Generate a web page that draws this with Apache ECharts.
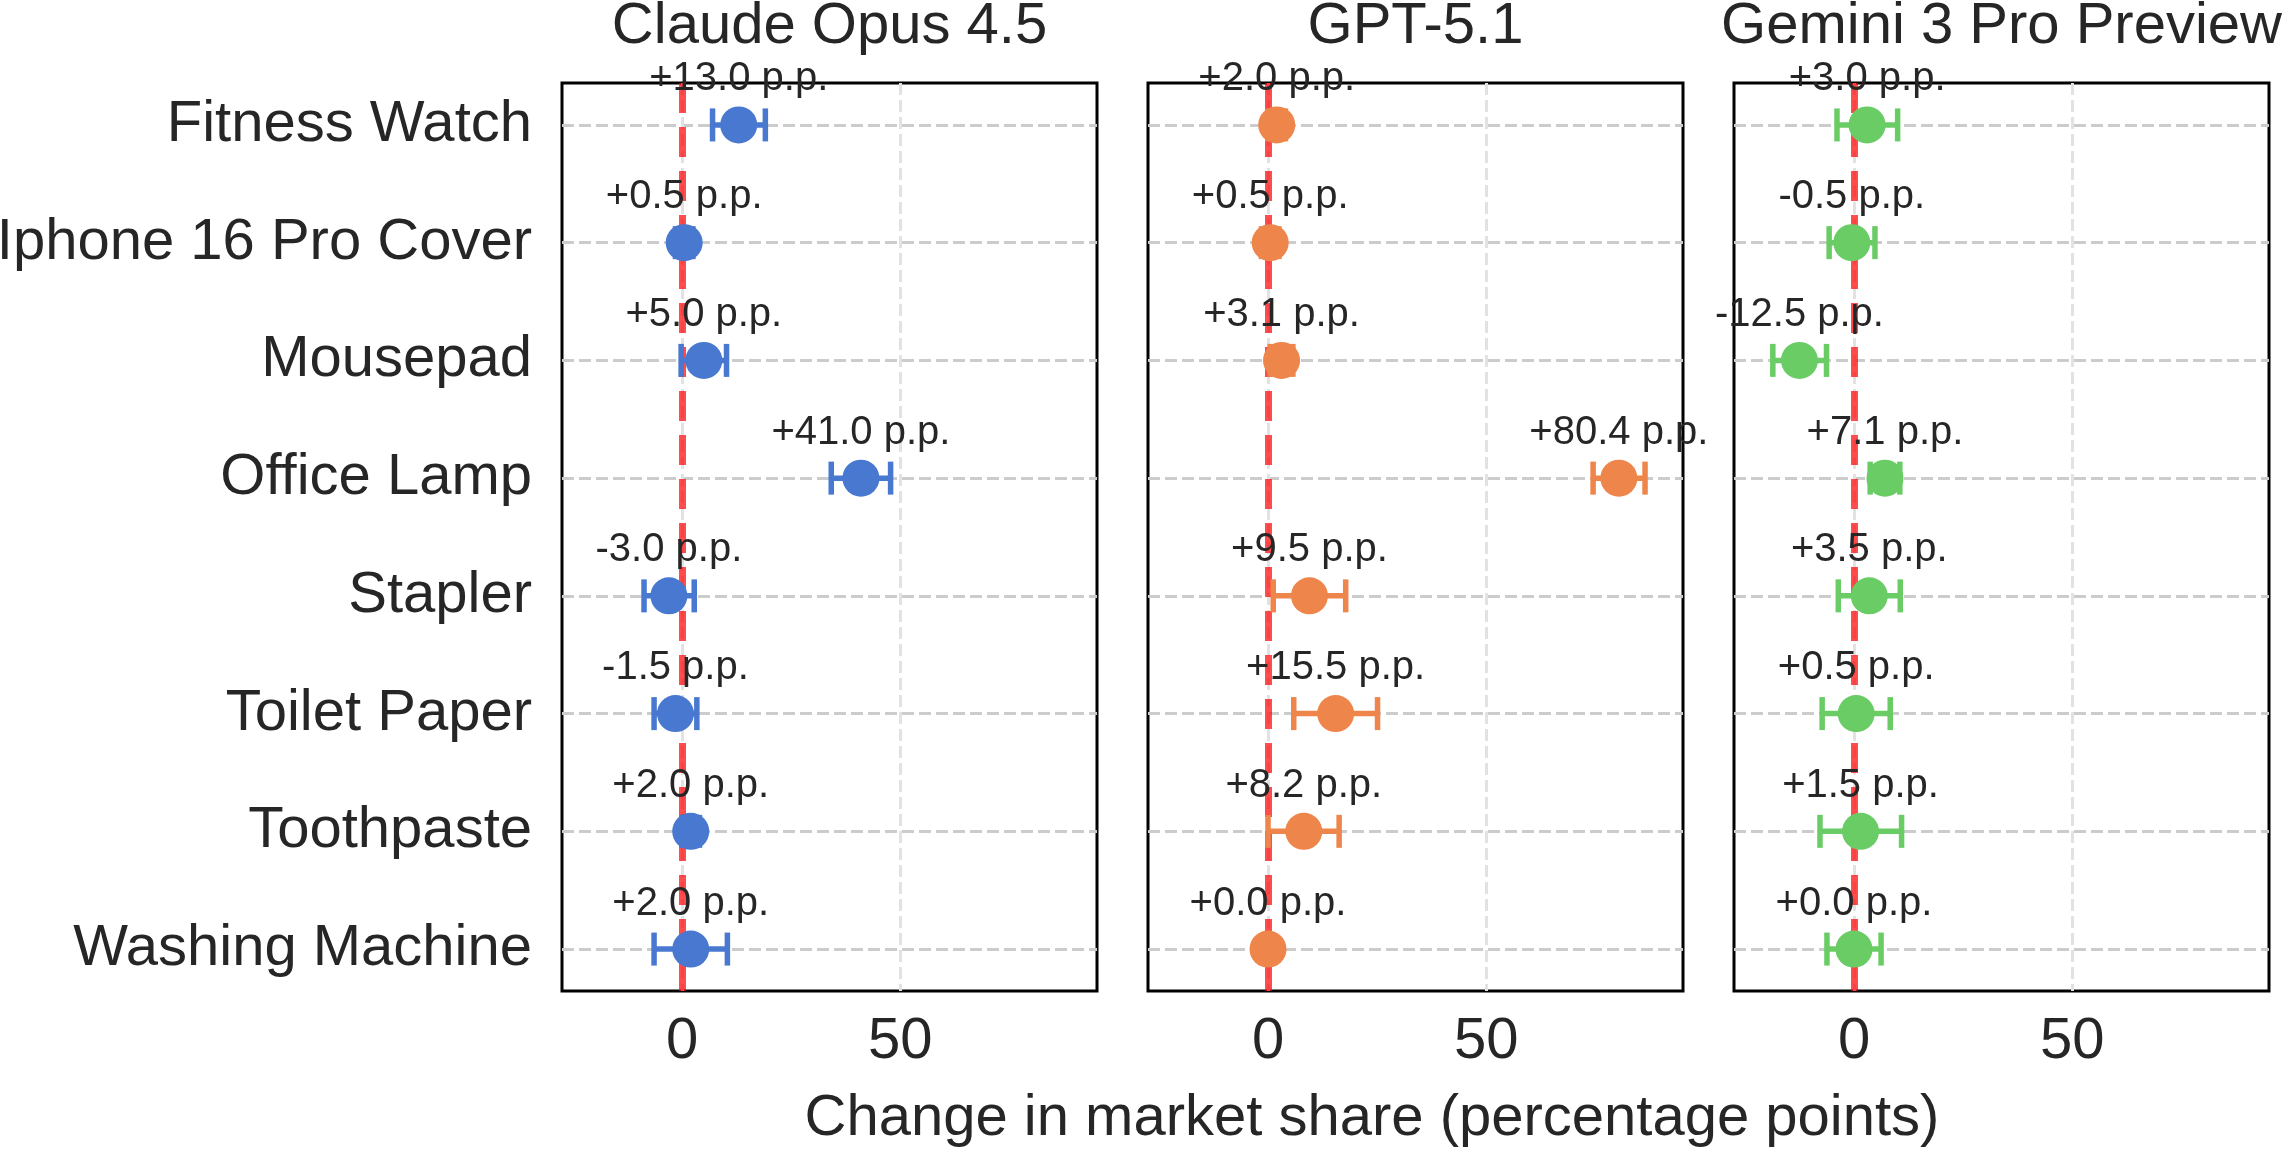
<!DOCTYPE html>
<html lang="en" style="height: 100%">
  <head>
    <meta charset="utf-8" />
  </head>
  <body style="height: 100%; margin: 0; background: #fff">
    <div id="container" style="width: 2284px; height: 1153px"></div>
    <script src="https://cdn.jsdelivr.net/npm/echarts@6.0.0/dist/echarts.min.js"></script>
    <script type="text/javascript">
      var categories = [
        "Fitness Watch",
        "Iphone 16 Pro Cover",
        "Mousepad",
        "Office Lamp",
        "Stapler",
        "Toilet Paper",
        "Toothpaste",
        "Washing Machine",
      ];
      var rowTicks = [0, 1, 2, 3, 4, 5, 6, 7];
      var xTicks = [0, 50];
      var models = ["Claude Opus 4.5", "GPT-5.1", "Gemini 3 Pro Preview"];
      var colors = ["#4878d0", "#ee854a", "#6acc64"];

      // change in market share (p.p.) and the ends of the error bars
      var claudeMean = [13.0, 0.5, 5.0, 41.0, -3.0, -1.5, 2.0, 2.0];
      var claudeLow = [7.0, -1.5, -0.2, 34.2, -8.7, -6.4, 0.0, -6.4];
      var claudeHigh = [19.1, 2.5, 10.2, 47.8, 2.8, 3.4, 4.0, 10.4];

      var gptMean = [2.0, 0.5, 3.1, 80.4, 9.5, 15.5, 8.2, 0.0];
      var gptLow = [0.0, -1.5, 0.5, 74.5, 1.2, 5.9, 0.0, -1.0];
      var gptHigh = [4.0, 2.5, 5.7, 86.4, 17.8, 25.1, 16.3, 1.0];

      var geminiMean = [3.0, -0.5, -12.5, 7.1, 3.5, 0.5, 1.5, 0.0];
      var geminiLow = [-3.9, -5.7, -18.6, 3.7, -3.6, -7.3, -7.8, -6.2];
      var geminiHigh = [10.0, 4.8, -6.3, 10.5, 10.6, 8.3, 10.9, 6.2];

      var means = [claudeMean, gptMean, geminiMean];
      var lows = [claudeLow, gptLow, geminiLow];
      var highs = [claudeHigh, gptHigh, geminiHigh];

      var FONT = "'Liberation Sans', Arial, Helvetica, sans-serif";
      var TEXT = "#262626";
      var panelLeft = [562, 1148, 1734];
      var panelWidth = 535;
      var panelTop = 83;
      var panelHeight = 908;

      var dom = document.getElementById("container");
      var myChart = echarts.init(dom, null, { renderer: "canvas" });

      // horizontal error bar with caps
      function renderErr(params, api) {
        var y = api.value(2);
        var p1 = api.coord([api.value(0), y]);
        var p2 = api.coord([api.value(1), y]);
        var h = 16.5;
        var st = { stroke: api.visual("color"), lineWidth: 5.5 };
        return {
          type: "group",
          children: [
            { type: "line", shape: { x1: p1[0], y1: p1[1], x2: p2[0], y2: p2[1] }, style: st },
            { type: "line", shape: { x1: p1[0], y1: p1[1] - h, x2: p1[0], y2: p1[1] + h }, style: st },
            { type: "line", shape: { x1: p2[0], y1: p2[1] - h, x2: p2[0], y2: p2[1] + h }, style: st },
          ],
        };
      }

      function ppLabel(p) {
        var v = p.value[0];
        return (v >= 0 ? "+" : "") + v.toFixed(1) + " p.p.";
      }

      var grids = [], xAxes = [], yAxes = [], series = [], graphics = [];

      for (var k = 0; k < 3; k++) {
        grids.push({
          left: panelLeft[k],
          top: panelTop,
          width: panelWidth,
          height: panelHeight,
          show: true,
          borderColor: "#000",
          borderWidth: 3,
          containLabel: false,
          outerBoundsMode: "none",
        });
        xAxes.push({
          type: "value",
          gridIndex: k,
          min: -27.5,
          max: 95.1,
          axisLine: { show: false },
          axisTick: { show: false, customValues: xTicks },
          axisLabel: {
            customValues: xTicks,
            fontSize: 58,
            fontFamily: FONT,
            color: TEXT,
            margin: 22,
          },
          splitLine: {
            show: true,
            lineStyle: { color: "#e2e2e2", width: 3, type: [12, 5] },
          },
        });
        yAxes.push({
          type: "value",
          gridIndex: k,
          inverse: true,
          min: -0.356,
          max: 7.356,
          axisLine: { show: false },
          axisTick: { show: false, customValues: rowTicks },
          axisLabel: {
            show: k === 0,
            customValues: rowTicks,
            fontSize: 58,
            fontFamily: FONT,
            color: TEXT,
            margin: 30,
            formatter: function (v) {
              return categories[v] !== undefined ? categories[v] : "";
            },
          },
          splitLine: {
            show: true,
            lineStyle: { color: "#cccccc", width: 3, type: [12, 5] },
          },
        });

        var errData = [], dotData = [];
        for (var i = 0; i < categories.length; i++) {
          errData.push([lows[k][i], highs[k][i], i]);
          dotData.push([means[k][i], i]);
        }

        series.push({
          type: "custom",
          xAxisIndex: k,
          yAxisIndex: k,
          z: 8,
          silent: true,
          itemStyle: { color: colors[k] },
          encode: { x: [0, 1], y: 2 },
          renderItem: renderErr,
          data: errData,
          markLine: {
            silent: true,
            z: 5,
            symbol: "none",
            label: { show: false },
            lineStyle: { color: "rgba(255,0,0,0.7)", width: 7, type: [30, 14] },
            emphasis: { disabled: true },
            data: [{ xAxis: 0 }],
          },
        });
        series.push({
          type: "scatter",
          xAxisIndex: k,
          yAxisIndex: k,
          z: 10,
          symbol: "circle",
          symbolSize: 37,
          itemStyle: { color: colors[k], opacity: 1 },
          label: {
            show: true,
            position: "top",
            distance: 7,
            formatter: ppLabel,
            fontSize: 40,
            fontFamily: FONT,
            color: TEXT,
          },
          data: dotData,
        });

        graphics.push({
          type: "text",
          x: panelLeft[k] + panelWidth / 2,
          y: 27,
          style: {
            text: models[k],
            fill: TEXT,
            font: "58px " + FONT,
            align: "center",
            verticalAlign: "middle",
            textAlign: "center",
            textVerticalAlign: "middle",
          },
        });
      }

      graphics.push({
        type: "text",
        x: 1372,
        y: 1119,
        style: {
          text: "Change in market share (percentage points)",
          fill: TEXT,
          font: "58px " + FONT,
          align: "center",
          verticalAlign: "middle",
          textAlign: "center",
          textVerticalAlign: "middle",
        },
      });

      var option = {
        animation: false,
        backgroundColor: "#ffffff",
        grid: grids,
        xAxis: xAxes,
        yAxis: yAxes,
        series: series,
        graphic: graphics,
      };
      myChart.setOption(option);
    </script>
  </body>
</html>
